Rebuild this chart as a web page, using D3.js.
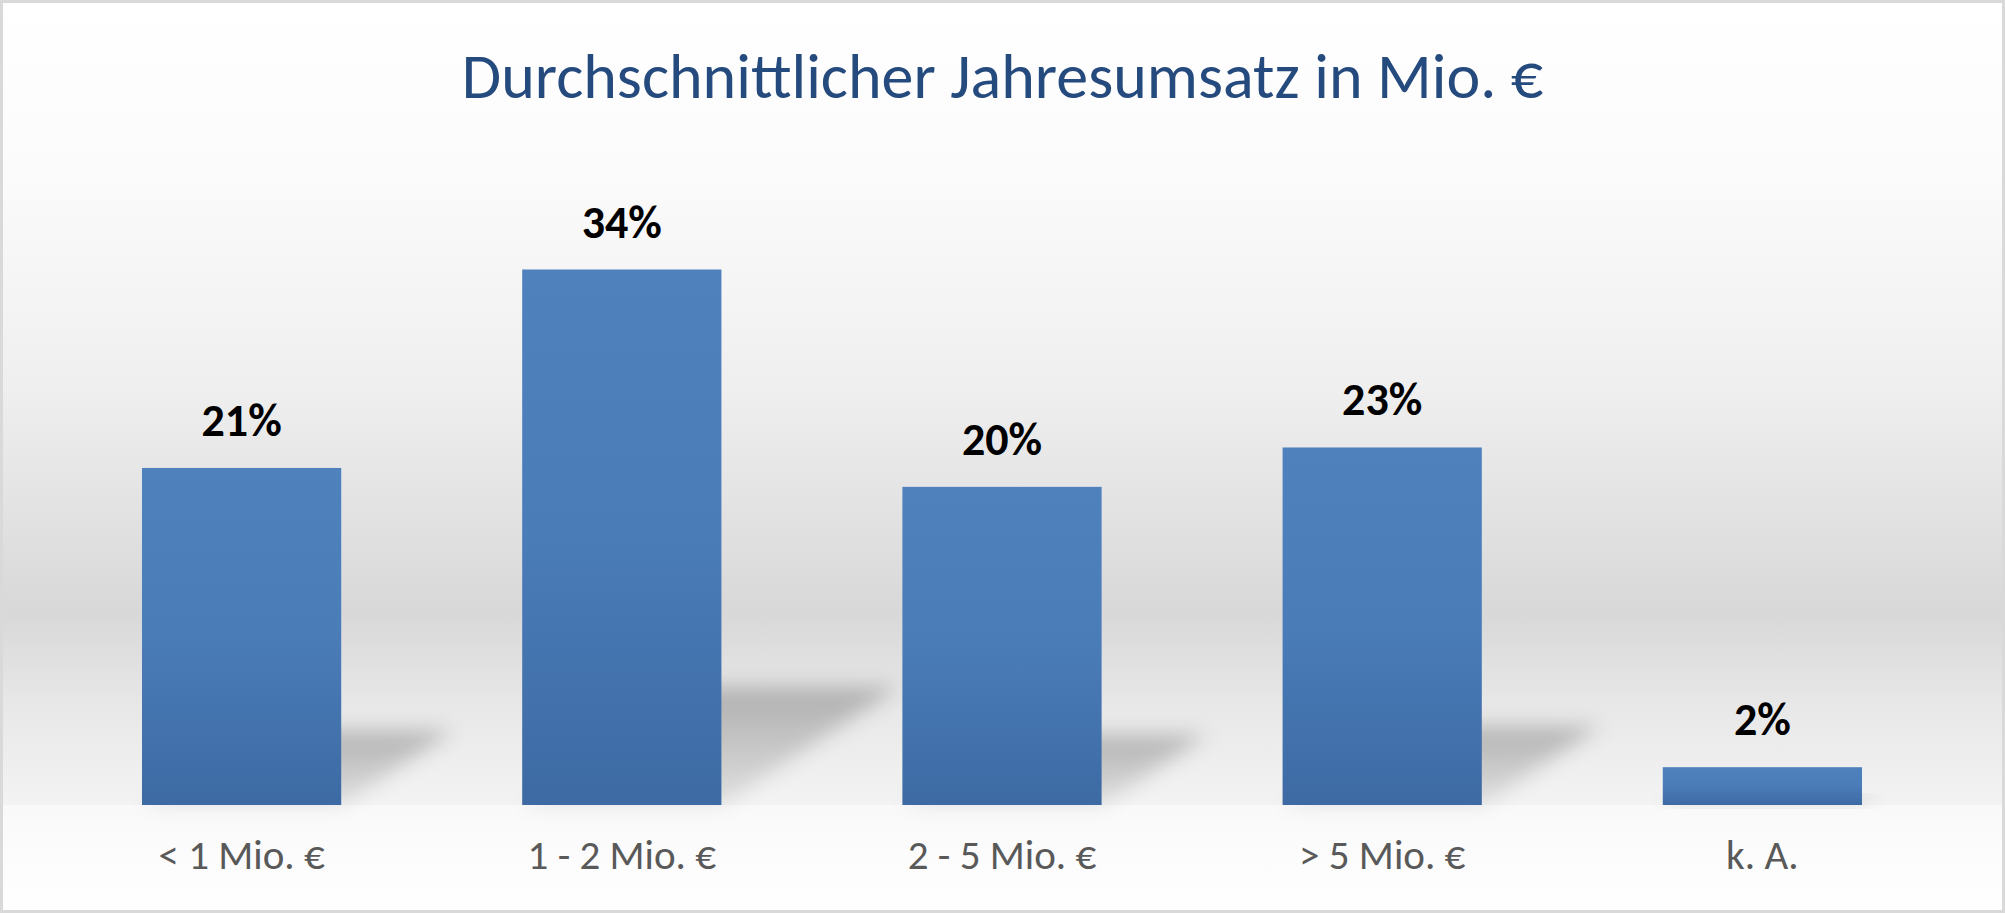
<!DOCTYPE html>
<html>
<head>
<meta charset="utf-8">
<script src="https://cdn.jsdelivr.net/npm/d3@7"></script>
<style>
  html, body { margin: 0; padding: 0; background: #fff; }
  svg { display: block; }
</style>
</head>
<body>
<svg id="chart" width="2005" height="913"></svg>
<script>
// data
const categories = ['< 1 Mio. €', '1 - 2 Mio. €', '2 - 5 Mio. €', '> 5 Mio. €', 'k. A.'];
const shares = [0.214, 0.34, 0.202, 0.227, 0.024];
const yDomain = [0, 0.4];
const title = 'Durchschnittlicher Jahresumsatz in Mio. €';

const W = 2005, H = 913;
const plot = { left: 51.5, right: 1952.5, top: 175, bottom: 805 };
const font = 'Carlito, Lato, "Open Sans", sans-serif';

const svg = d3.select('#chart');
const defs = svg.append('defs');

// upper background, white at the top, dark band low in the middle
let pg = defs.append('linearGradient').attr('id', 'plotBg')
  .attr('x1', 0).attr('y1', 0).attr('x2', 0).attr('y2', 1);
pg.append('stop').attr('offset', 0).attr('stop-color', '#ffffff');
pg.append('stop').attr('offset', 0.22).attr('stop-color', '#fbfbfb');
pg.append('stop').attr('offset', 0.48).attr('stop-color', '#efefef');
pg.append('stop').attr('offset', 0.76).attr('stop-color', '#d8d8d8');
pg.append('stop').attr('offset', 0.88).attr('stop-color', '#e8e8e8');
pg.append('stop').attr('offset', 1).attr('stop-color', '#f3f3f3');

// lower strip under the baseline
let lg = defs.append('linearGradient').attr('id', 'lowBg')
  .attr('x1', 0).attr('y1', 0).attr('x2', 0).attr('y2', 1);
lg.append('stop').attr('offset', 0).attr('stop-color', '#f9f9f9');
lg.append('stop').attr('offset', 1).attr('stop-color', '#ffffff');

let barG = defs.append('linearGradient').attr('id', 'barFill')
  .attr('x1', 0).attr('y1', 0).attr('x2', 0).attr('y2', 1);
barG.append('stop').attr('offset', 0).attr('stop-color', '#4f81bd');
barG.append('stop').attr('offset', 0.5).attr('stop-color', '#4a7cb8');
barG.append('stop').attr('offset', 1).attr('stop-color', '#3d6aa3');

let shG = defs.append('linearGradient').attr('id', 'shadowFill')
  .attr('x1', 0).attr('y1', 0).attr('x2', 0).attr('y2', 1);
shG.append('stop').attr('offset', 0).attr('stop-color', '#000').attr('stop-opacity', 0.24);
shG.append('stop').attr('offset', 1).attr('stop-color', '#000').attr('stop-opacity', 0.08);

defs.append('filter').attr('id', 'blur')
  .attr('x', '-40%').attr('y', '-40%').attr('width', '180%').attr('height', '180%')
  .append('feGaussianBlur').attr('stdDeviation', 10);

svg.append('rect')
  .attr('x', 0).attr('y', 0)
  .attr('width', W).attr('height', plot.bottom)
  .attr('fill', 'url(#plotBg)');

svg.append('rect')
  .attr('x', 0).attr('y', plot.bottom)
  .attr('width', W).attr('height', H - plot.bottom)
  .attr('fill', 'url(#lowBg)');

const x = d3.scaleBand()
  .domain(categories)
  .range([plot.left, plot.right])
  .paddingInner(0.476)
  .paddingOuter(0.238);

const y = d3.scaleLinear()
  .domain(yDomain)
  .range([plot.bottom, plot.top]);

const rows = categories.map((c, i) => ({ cat: c, v: shares[i] }));

// perspective shadows cast behind each bar
svg.append('g')
  .selectAll('path')
  .data(rows)
  .join('path')
  .attr('filter', 'url(#blur)')
  .attr('fill', 'url(#shadowFill)')
  .attr('d', d => {
    let x0 = x(d.cat), x1 = x0 + x.bandwidth();
    let h = y(0) - y(d.v);
    let dx = h * 0.33, dy = h * 0.22;
    return `M${x0},${y(0)} L${x1},${y(0)} L${x1 + dx},${y(0) - dy} L${x0 + dx},${y(0) - dy} Z`;
  });

svg.append('g')
  .selectAll('rect')
  .data(rows)
  .join('rect')
  .attr('x', d => x(d.cat))
  .attr('y', d => y(d.v))
  .attr('width', x.bandwidth())
  .attr('height', d => y(0) - y(d.v))
  .attr('fill', 'url(#barFill)');

svg.append('g')
  .selectAll('text')
  .data(rows)
  .join('text')
  .attr('x', d => x(d.cat) + x.bandwidth() / 2)
  .attr('y', d => y(d.v) - 32)
  .attr('text-anchor', 'middle')
  .attr('font-family', font)
  .attr('font-weight', 'bold')
  .attr('font-size', 46)
  .attr('fill', '#000')
  .text(d => d3.format('.0%')(d.v));

// category axis, no line and no ticks
const xAxis = svg.append('g')
  .attr('transform', `translate(0,${plot.bottom})`)
  .call(d3.axisBottom(x).tickSize(0).tickPadding(64));
xAxis.select('.domain').remove();
xAxis.selectAll('text')
  .attr('dy', 0)
  .attr('font-family', font)
  .attr('font-size', 41)
  .attr('fill', '#595959');

svg.append('text')
  .attr('x', W / 2)
  .attr('y', 98)
  .attr('text-anchor', 'middle')
  .attr('font-family', font)
  .attr('font-size', 64)
  .attr('fill', '#254a7d')
  .text(title);

// chart border
svg.append('rect')
  .attr('x', 1.5).attr('y', 1.5)
  .attr('width', W - 3).attr('height', H - 3)
  .attr('fill', 'none')
  .attr('stroke', '#d9d9d9')
  .attr('stroke-width', 3);
</script>
</body>
</html>
